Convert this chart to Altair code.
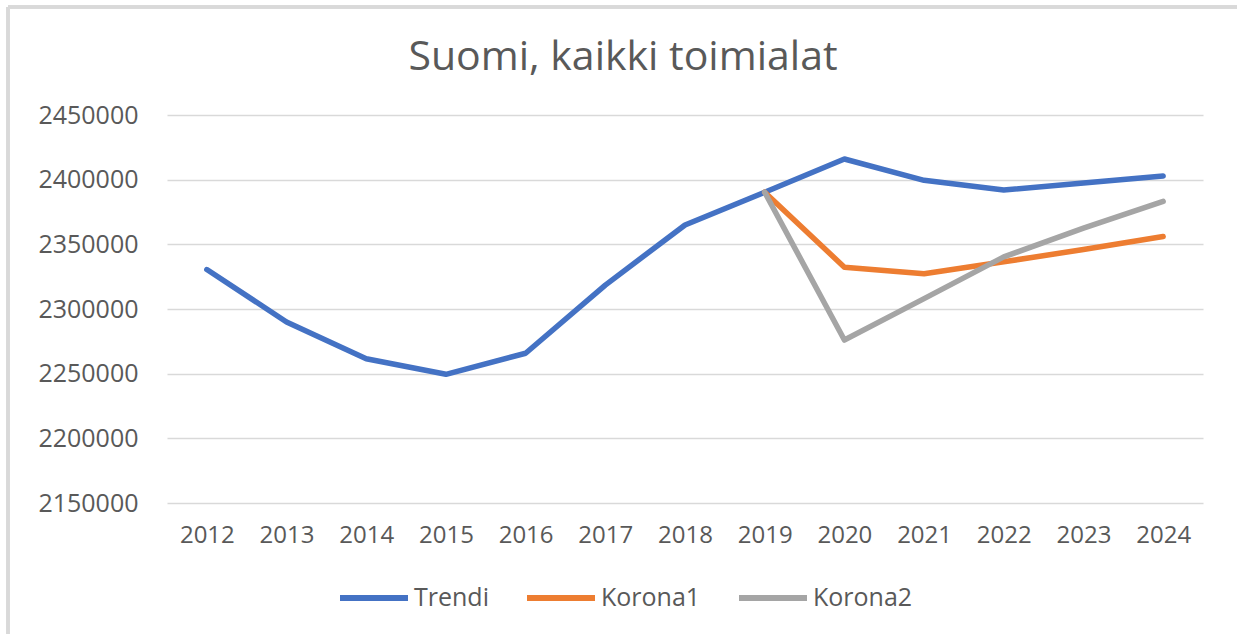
import altair as alt
import pandas as pd

years = [2012, 2013, 2014, 2015, 2016, 2017, 2018, 2019, 2020, 2021, 2022, 2023, 2024]
trendi = [2330500, 2290000, 2261500, 2249500, 2265800, 2318500, 2365000, 2390300,
          2416000, 2399500, 2392000, 2397500, 2402800]
korona_years = [2019, 2020, 2021, 2022, 2023, 2024]
korona1 = [2390300, 2332300, 2327300, 2336500, 2346000, 2356000]
korona2 = [2390300, 2276000, 2308000, 2340300, 2362500, 2383200]
series_names = ["Trendi", "Korona1", "Korona2"]
series_colors = ["#4472C4", "#ED7D31", "#A5A5A5"]
y_ticks = [2150000, 2200000, 2250000, 2300000, 2350000, 2400000, 2450000]
title_text = "Suomi, kaikki toimialat"

rows = []
for y, v in zip(years, trendi):
    rows.append({"Vuosi": str(y), "Arvo": v, "Sarja": "Trendi"})
for y, v in zip(korona_years, korona1):
    rows.append({"Vuosi": str(y), "Arvo": v, "Sarja": "Korona1"})
for y, v in zip(korona_years, korona2):
    rows.append({"Vuosi": str(y), "Arvo": v, "Sarja": "Korona2"})
df = pd.DataFrame(rows)

TEXT = "#595959"
FONT = "Open Sans"

lines = alt.Chart(df).mark_line(strokeWidth=5.5, strokeCap="round", strokeJoin="round").encode(
    x=alt.X("Vuosi:O", sort=[str(y) for y in years],
            scale=alt.Scale(type="point", padding=0.5),
            axis=alt.Axis(title=None, labelAngle=0, ticks=False, domain=False, grid=False,
                          labelFontSize=24, labelColor=TEXT, labelFont=FONT, labelPadding=20)),
    y=alt.Y("Arvo:Q", scale=alt.Scale(domain=[2150000, 2450000], nice=False, zero=False),
            axis=alt.Axis(title=None, values=y_ticks, format="d", ticks=False, domain=False,
                          gridColor="#D9D9D9", gridWidth=1.5,
                          labelFontSize=25, labelColor=TEXT, labelFont=FONT, labelPadding=29)),
    color=alt.Color("Sarja:N", sort=series_names,
                    scale=alt.Scale(domain=series_names, range=series_colors),
                    legend=alt.Legend(title=None, orient="none", direction="horizontal",
                                      legendX=170, legendY=446,
                                      symbolType="stroke", symbolSize=4624, symbolStrokeWidth=6,
                                      labelFontSize=25, labelColor=TEXT, labelFont=FONT,
                                      labelOffset=3, columnPadding=26)),
    order=alt.Order("Sarja:N"),
)

frame_left = alt.Chart(df).mark_rule(color="#D9D9D9", strokeWidth=3).encode(
    x=alt.value(-159), y=alt.value(-108), y2=alt.value(530))
frame_top = alt.Chart(df).mark_rule(color="#D9D9D9", strokeWidth=3).encode(
    x=alt.value(-159), x2=alt.value(1080), y=alt.value(-108))

title = alt.Chart(pd.DataFrame({"t": [title_text]})).mark_text(
    font=FONT, fontSize=41, color=TEXT, align="center", baseline="middle"
).encode(text="t:N", x=alt.value(456), y=alt.value(-57))

chart = alt.layer(frame_left, frame_top, lines, title).properties(
    width=1036, height=388,
    autosize=alt.AutoSizeParams(type="none"),
    padding={"left": 167, "top": 115, "right": 34, "bottom": 131},
    background="white",
).configure_view(stroke=None)

chart.save("out.html", embed_options={"renderer": "svg", "actions": False})
